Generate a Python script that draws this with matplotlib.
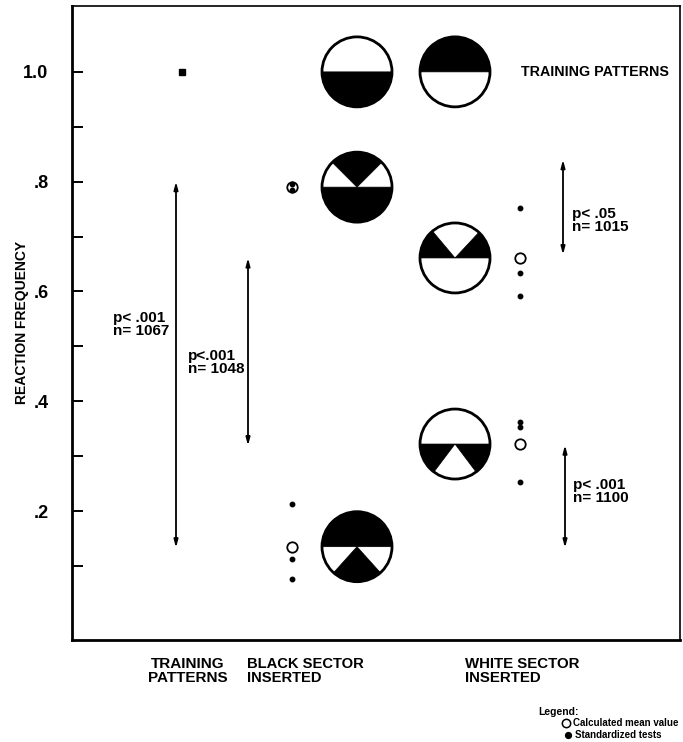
import matplotlib
matplotlib.use("Agg")
import matplotlib.pyplot as plt
import matplotlib.transforms as mtransforms
from matplotlib.patches import Wedge, Circle
from matplotlib.lines import Line2D

# ---------------- data ----------------
cat_labels = ["TRAINING\nPATTERNS", "BLACK SECTOR\nINSERTED", "WHITE SECTOR\nINSERTED"]
cat_x = [1.10, 2.20, 4.48]

training_value = [1.0]
black_means = [0.790, 0.135]
white_means = [0.661, 0.322]
black_tests = [0.795, 0.785, 0.213, 0.113, 0.077]
white_tests = [0.752, 0.634, 0.592, 0.362, 0.353, 0.253]

yticks_major = [0.2, 0.4, 0.6, 0.8, 1.0]
ytick_labels = [".2", ".4", ".6", ".8", "1.0"]
yticks_minor = [0.1, 0.3, 0.5, 0.7, 0.9]

# significance bars
sig_x = [1.04, 1.76, 4.91, 4.93]
sig_low = [0.133, 0.319, 0.667, 0.133]
sig_high = [0.800, 0.661, 0.840, 0.320]
sig_text = ["p< .001\nn= 1067", "p<.001\nn= 1048", "p< .05\nn= 1015", "p< .001\nn= 1100"]
sig_tx = [0.41, 1.16, 5.00, 5.01]
sig_ty = [0.539, 0.470, 0.730, 0.235]

# pattern icons: column x, y (matches mean), black sectors (theta1, theta2)
pat_x = [2.85, 3.83, 2.85, 3.83, 3.83, 2.85]
pat_y = [1.0, 1.0, 0.790, 0.661, 0.322, 0.135]
pat_black = [
    [(180, 360)],
    [(0, 180)],
    [(180, 360), (45, 135)],
    [(0, 47), (130, 180)],
    [(180, 233), (307, 360)],
    [(0, 180), (228, 312)],
]

# ---------------- figure ----------------
W, H = 683, 742
fig = plt.figure(figsize=(W / 100, H / 100), dpi=100)
ax = fig.add_axes([72 / W, 1 - 640 / H, 608 / W, 634 / H])
ax.set_xlim(0, 6.08)
ax.set_ylim(-0.035, 1.12)

bold = dict(family=["Liberation Sans", "DejaVu Sans"], fontweight="bold")

for side, lw in [("left", 2.0), ("bottom", 2.0), ("top", 1.2), ("right", 1.2)]:
    ax.spines[side].set_linewidth(lw)
ax.set_xticks([])
ax.set_yticks(yticks_major)
ax.set_yticks(yticks_minor, minor=True)
ax.set_yticklabels(ytick_labels, fontsize=13, **bold)
ax.tick_params(axis="y", which="both", direction="in", length=8, width=1.4, pad=17)

fig.text(22 / W, 1 - 322 / H, "REACTION FREQUENCY", rotation=90, ha="center", va="center",
         fontsize=10, **bold)

# training point
ax.plot([cat_x[0]], training_value, marker="s", color="black", markersize=4.5, linestyle="none")

# standardized tests (filled dots)
ax.plot([cat_x[1]] * len(black_tests), black_tests, "o", color="black", markersize=3.2, linestyle="none")
ax.plot([cat_x[2]] * len(white_tests), white_tests, "o", color="black", markersize=3.2, linestyle="none")
# calculated means (open circles)
ax.plot([cat_x[1]] * len(black_means), black_means, "o", markerfacecolor="none",
        markeredgecolor="black", markeredgewidth=1.3, markersize=7.5, linestyle="none")
ax.plot([cat_x[2]] * len(white_means), white_means, "o", markerfacecolor="none",
        markeredgecolor="black", markeredgewidth=1.3, markersize=7.5, linestyle="none")

# significance arrows and labels
for x, lo, hi, t, tx, ty in zip(sig_x, sig_low, sig_high, sig_text, sig_tx, sig_ty):
    ax.annotate("", xy=(x, hi), xytext=(x, lo),
                arrowprops=dict(arrowstyle="<|-|>,head_length=0.45,head_width=0.12",
                                color="black", lw=1.3, shrinkA=0, shrinkB=0))
    ax.text(tx, ty, t, ha="left", va="center", fontsize=11, linespacing=0.92, **bold)

# pattern icons
R = 0.35  # inches
for x, y, blacks in zip(pat_x, pat_y, pat_black):
    tr = fig.dpi_scale_trans + mtransforms.ScaledTranslation(x, y, ax.transData)
    ax.add_patch(Circle((0, 0), R, transform=tr, facecolor="white", edgecolor="none", zorder=3))
    for t1, t2 in blacks:
        ax.add_patch(Wedge((0, 0), R, t1, t2, transform=tr, facecolor="black",
                           edgecolor="black", linewidth=0.5, zorder=4))
    ax.add_patch(Circle((0, 0), R, transform=tr, facecolor="none", edgecolor="black",
                        linewidth=2.0, zorder=5))

ax.text(4.49, 1.0, "TRAINING PATTERNS", ha="left", va="center", fontsize=10.3, **bold)

# category labels below the axis
fig.text(188 / W, 1 - 657 / H, cat_labels[0], ha="center", va="top", fontsize=11,
         linespacing=1.0, **bold)
fig.text(247 / W, 1 - 657 / H, cat_labels[1], ha="left", va="top", fontsize=10.6,
         linespacing=1.0, **bold)
fig.text(465 / W, 1 - 657 / H, cat_labels[2], ha="left", va="top", fontsize=10.8,
         linespacing=1.0, **bold)

# legend
small = dict(family=["Liberation Sans Narrow", "Liberation Sans", "DejaVu Sans"], fontweight="bold")
fig.text(538 / W, 1 - 712 / H, "Legend:", ha="left", va="center", fontsize=7.5, **small)
fig.add_artist(Line2D([566 / W], [1 - 723 / H], marker="o", markersize=6, markerfacecolor="none",
                      markeredgecolor="black", markeredgewidth=1.1, transform=fig.transFigure))
fig.add_artist(Line2D([568 / W], [1 - 735 / H], marker="o", markersize=4.2, color="black",
                      transform=fig.transFigure))
fig.text(573 / W, 1 - 723 / H, "Calculated mean value", ha="left", va="center",
         fontsize=7, **small)
fig.text(575 / W, 1 - 735 / H, "Standardized tests", ha="left", va="center",
         fontsize=7, **small)

fig.savefig("out.png", dpi=100)
